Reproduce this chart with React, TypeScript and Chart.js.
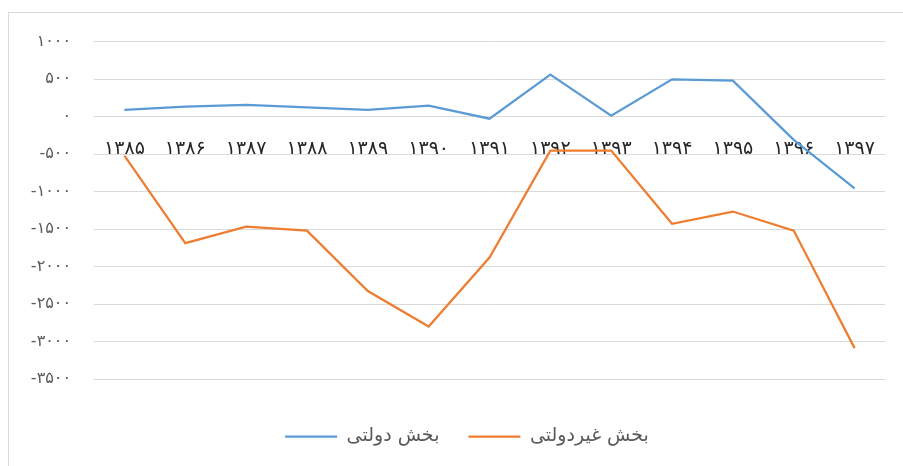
import React, { useEffect, useRef } from "react";
import { Chart, registerables } from "chart.js";

Chart.register(...registerables);

const years = ["۱۳۸۵", "۱۳۸۶", "۱۳۸۷", "۱۳۸۸", "۱۳۸۹", "۱۳۹۰", "۱۳۹۱", "۱۳۹۲", "۱۳۹۳", "۱۳۹۴", "۱۳۹۵", "۱۳۹۶", "۱۳۹۷"];
const governmentSector = [90, 133, 156, 125, 89, 147, -27, 560, 13, 498, 480, -310, -958];
const nonGovernmentSector = [-520, -1688, -1466, -1520, -2326, -2800, -1880, -453, -453, -1430, -1266, -1520, -3088];
const seriesNames = ["بخش دولتی", "بخش غیردولتی"];
const yMin = -3500;
const yMax = 1000;
const yStep = 500;

const persianDigits = "۰۱۲۳۴۵۶۷۸۹";
const toPersian = (n: number) =>
  String(n).replace(/[0-9]/g, (d) => persianDigits[Number(d)]);

export default function App() {
  const ref = useRef<HTMLCanvasElement | null>(null);

  useEffect(() => {
    if (!ref.current) return;
    const chart = new Chart(ref.current, {
      type: "line",
      data: {
        labels: years,
        datasets: [
          {
            label: seriesNames[0],
            data: governmentSector,
            borderColor: "#5B9BD5",
            backgroundColor: "#5B9BD5",
            borderWidth: 2.25,
            pointRadius: 0,
            tension: 0,
          },
          {
            label: seriesNames[1],
            data: nonGovernmentSector,
            borderColor: "#ED7D31",
            backgroundColor: "#ED7D31",
            borderWidth: 2.25,
            pointRadius: 0,
            tension: 0,
          },
        ],
      },
      options: {
        responsive: false,
        animation: false,
        layout: { padding: { left: 0, right: 0, top: 28.7, bottom: 10 } },
        scales: {
          x: {
            position: { y: 0 } as any,
            offset: true,
            grid: { display: false, drawTicks: false },
            border: { display: false },
            ticks: {
              padding: 21,
              maxRotation: 0,
              autoSkip: false,
              color: "#262626",
              font: { family: "'DejaVu Sans'", size: 19 },
            },
          },
          y: {
            min: yMin,
            max: yMax,
            afterFit: (s: any) => {
              s.width = 85;
            },
            grid: { color: "#d9d9d9", lineWidth: 1, drawTicks: false },
            border: { display: false },
            ticks: {
              stepSize: yStep,
              padding: 23,
              color: "#595959",
              font: { family: "'DejaVu Sans'", size: 16, lineHeight: 0.6 },
              callback: (v: any) => toPersian(Number(v)),
            },
          },
        },
        plugins: {
          title: {
            display: true,
            text: " ",
            position: "bottom",
            fullSize: false,
            padding: { top: 7, bottom: 0 },
            font: { size: 10, lineHeight: 1.2 },
            weight: 500,
          } as any,
          subtitle: {
            display: true,
            text: " ",
            position: "right",
            fullSize: false,
            padding: { top: 14, bottom: 14 },
            font: { size: 10, lineHeight: 1.2 },
          } as any,
          legend: {
            position: "bottom",
            labels: {
              usePointStyle: true,
              pointStyle: "line",
              pointStyleWidth: 52,
              boxHeight: 3,
              padding: 29,
              color: "#595959",
              font: { family: "'DejaVu Sans'", size: 19 },
            },
          } as any,
          tooltip: { enabled: false },
        },
      },
    });
    return () => chart.destroy();
  }, []);

  return (
    <div
      style={{
        position: "absolute",
        left: 8,
        top: 12,
        width: 895,
        height: 454,
        boxSizing: "border-box",
        borderTop: "1px solid #d9d9d9",
        borderLeft: "1px solid #d9d9d9",
        overflow: "hidden",
        background: "#fff",
      }}
    >
      <canvas ref={ref} width={916} height={453} style={{ display: "block" }} />
    </div>
  );
}
